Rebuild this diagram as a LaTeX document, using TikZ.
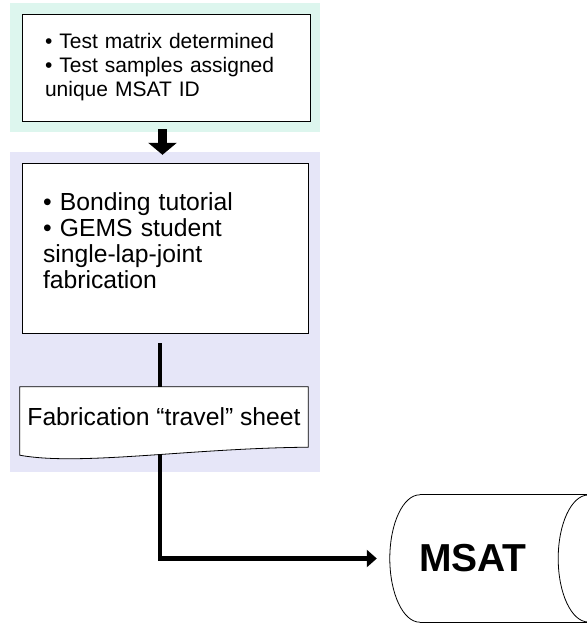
\documentclass[tikz,border=0pt]{standalone}
\usepackage{fontspec}
\setmainfont{Liberation Sans}
\usetikzlibrary{arrows.meta, positioning, calc}
\pgfdeclarelayer{background}
\pgfsetlayers{background,main}
\definecolor{plangreen}{RGB}{221,246,238}
\definecolor{fabviolet}{RGB}{230,230,248}

\begin{document}
\begin{tikzpicture}[x=1pt, y=-1pt,
        panel/.style={rectangle, minimum width=310pt, inner sep=0pt},
        box/.style={rectangle, draw, fill=white, align=left, line width=0.8pt},
        link/.style={line width=4.5pt},
        flow/.style={line width=4.5pt, -{Triangle[length=10pt, width=17pt]}},
        outline/.style={draw, line width=0.8pt}]
        \useasboundingbox (0,0) rectangle (586,623);

        % Nodes
        \node[box, text width=242pt, inner xsep=23pt, minimum height=107pt, font=\fontsize{21}{24}\selectfont] (plan) at (166,67.5) {• Test matrix determined\\• Test samples assigned\\unique MSAT ID};
        \node[box, text width=244pt, inner xsep=21pt, minimum height=170pt, font=\fontsize{24.7}{25.7}\selectfont] (fab) at (165,248) {• Bonding tutorial\\• GEMS student\\single-lap-joint\\fabrication\rule[-15pt]{0pt}{0pt}};
        \node[minimum width=288pt, minimum height=60pt, inner xsep=0pt, font=\fontsize{24.7}{28}\selectfont] (sheet) at (164,417) {Fabrication “travel” sheet};
        \node[minimum width=166pt, minimum height=127pt, inner sep=0pt, font=\bfseries\fontsize{39}{39}\selectfont] (store) at (473,558.5) {MSAT};

        % Panels
        \begin{pgfonlayer}{background}
            \node[panel, fill=plangreen, minimum height=128.5pt] (planpanel) at (165,67.25) {};
            \node[panel, fill=fabviolet, minimum height=320pt] (fabpanel) at (165,312) {};
            \draw[outline, fill=white] (sheet.north west) -- (sheet.north east) -- (sheet.south east)
                .. controls ($(sheet.south west)+(170,1)$) and ($(sheet.south west)+(60,19)$) .. ($(sheet.south west)+(0,8)$) -- cycle;
        \end{pgfonlayer}

        % MSAT drum
        \draw[outline] ($(store.north west)+(30,0)$) -- ($(store.north east)+(32,0)$);
        \draw[outline] ($(store.south west)+(30,0)$) -- ($(store.south east)+(32,0)$);
        \draw[outline] ($(store.north west)+(30,0)$) .. controls ($(store.north west)+(13.4,0)$) and ($(store.west)+(0,-35.1)$) .. (store.west)
            .. controls ($(store.west)+(0,35.1)$) and ($(store.south west)+(13.4,0)$) .. ($(store.south west)+(30,0)$);
        \draw[outline] ($(store.east)+(32,0)$) ellipse [x radius=30, y radius=63.5];

        % Edges
        \draw[line width=9pt, -{Triangle[length=12pt, width=28pt]}, shorten <=-2.5pt, shorten >=-3pt] ([xshift=-2.5pt]planpanel.south) -- ([xshift=-2.5pt]fabpanel.north);
        \draw[link, shorten <=10pt] ([xshift=-5pt]fab.south) -- ([xshift=-4pt]sheet.north);
        \draw[flow, shorten >=13pt] ($(sheet.south)+(-4,7)$) |- (store.west);
    \end{tikzpicture}
\end{document}
